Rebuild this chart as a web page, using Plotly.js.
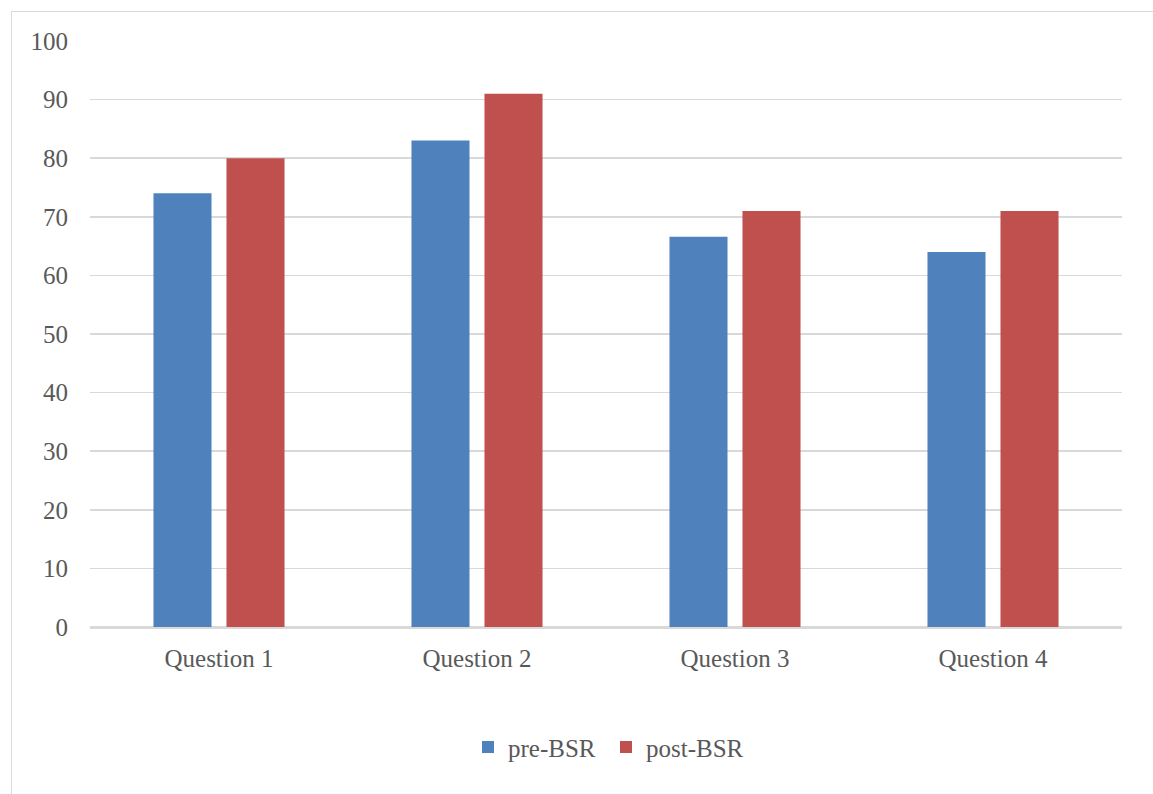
<!DOCTYPE html>
<html>
<head>
<meta charset="utf-8">
<script src="https://cdn.plot.ly/plotly-3.0.1.min.js"></script>
<style>
html,body{margin:0;padding:0;background:#fff;}
#frame{position:absolute;left:11px;top:11px;width:1200px;height:850px;border-left:1.5px solid #d9d9d9;border-top:1.5px solid #d9d9d9;}
#chart{position:absolute;left:0;top:0;width:1153px;height:794px;}
</style>
</head>
<body>
<div id="frame"></div>
<div id="chart"></div>
<script>
var categories = ["Question 1", "Question 2", "Question 3", "Question 4"];
var preBSR = [74, 83, 66.6, 64];
var postBSR = [80, 91, 71, 71];
var seriesNames = ["pre-BSR", "post-BSR"];
var yTicks = [0, 10, 20, 30, 40, 50, 60, 70, 80, 90, 100];

var fontFam = "'Liberation Serif', 'DejaVu Serif', serif";
var traces = [
  {type: 'bar', name: seriesNames[0], x: categories, y: preBSR,
   marker: {color: '#4f81bd'}},
  {type: 'bar', name: seriesNames[1], x: categories, y: postBSR,
   marker: {color: '#c0504d'}}
];
var layout = {
  width: 1153, height: 794,
  paper_bgcolor: 'rgba(0,0,0,0)', plot_bgcolor: 'rgba(0,0,0,0)',
  margin: {l: 90, r: 31, t: 41, b: 167},
  barmode: 'group', bargap: 0.434, bargroupgap: 0.205,
  font: {family: fontFam, size: 25, color: '#595959'},
  xaxis: {showgrid: false, showline: true, linecolor: '#d9d9d9', linewidth: 1.5,
          ticks: '', ticklabelstandoff: 8, tickfont: {family: fontFam, size: 25, color: '#595959'}},
  yaxis: {range: [0, 100], tickvals: yTicks, ticktext: yTicks.map(String),
          showgrid: true, gridcolor: '#d9d9d9', gridwidth: 1.5,
          zeroline: true, zerolinecolor: '#d9d9d9', zerolinewidth: 1.5,
          showline: false, ticks: '', ticklabelstandoff: 21,
          tickfont: {family: fontFam, size: 25, color: '#595959'}},
  legend: {orientation: 'h', x: 0.5, xanchor: 'center', y: -0.205, yanchor: 'middle',
           font: {family: fontFam, size: 25, color: '#595959'}, itemwidth: 30,
           entrywidth: 93, entrywidthmode: 'pixels', traceorder: 'normal'},
  showlegend: true
};
Plotly.newPlot('chart', traces, layout, {displayModeBar: false, staticPlot: true});
</script>
</body>
</html>
